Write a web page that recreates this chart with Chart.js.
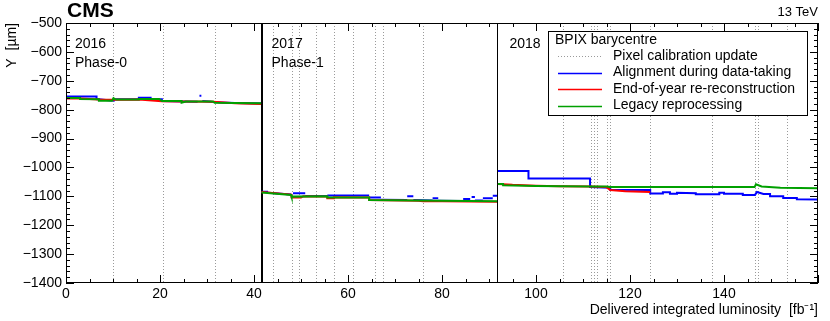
<!DOCTYPE html>
<html><head><meta charset="utf-8">
<script src="https://cdn.jsdelivr.net/npm/chart.js@4.4.1/dist/chart.umd.min.js"></script>
<style>html,body{margin:0;padding:0;background:#fff;}</style>
</head><body>
<canvas id="c" width="830" height="321"></canvas>
<script>
// ---- data (integrated luminosity in fb^-1, Y in micrometres); null = gap
const alignLumi = [0,6.5,6.5,9.5,10.2,10.2,15.5,15.5,18,18,20.4,20.4,25,28,null,28.4,28.8,null,29,31,33,36,41.5,null,
  41.6,43,null,43,47.9,null,48.3,50.9,null,50.9,55.6,null,55.6,64.5,null,64.5,67,null,67,72.6,null,72.6,73.9,null,
  73.9,78,null,78,79.2,null,79.2,84.5,null,84.5,86,null,86.3,87,null,87,88.7,null,88.7,90.8,null,90.8,91.7,null,
  91.9,98.4,98.4,111.5,111.5,115.8,115.8,124.3,124.3,127,127,128.5,128.5,130,130,134,134,139,139,140,140,144,144,146.6,147,148.4,149.8,149.8,152.6,152.6,155.5,155.5,160];
const alignY = [-754,-754,-763,-768,-768,-764,-764,-759,-759,-764,-764,-770,-772,-773,null,-752,-752,null,-770,-773,-775,-777,-779,null,
  -1084,-1084,null,-1088,-1094,null,-1089,-1089,null,-1099,-1099,null,-1097,-1097,null,-1104,-1104,null,-1112,-1113,null,-1100,-1100,null,
  -1113,-1114,null,-1107,-1107,null,-1115,-1116,null,-1109,-1109,null,-1102,-1102,null,-1114,-1114,null,-1107,-1107,null,-1098,-1098,null,
  -1012,-1012,-1038,-1038,-1068,-1070,-1077,-1078,-1090,-1090,-1086,-1086,-1091,-1091,-1088,-1089,-1093,-1093,-1088,-1088,-1091,-1091,-1095,-1095,-1085,-1092,-1092,-1100,-1100,-1106,-1106,-1110,-1111];

const eoyLumi = [0,3,7,10,15.5,20.4,24.6,31.3,36,41.5,null,
  41.6,47.9,48,50,50.5,55.6,55.6,57,57,64.5,64.5,75,76,80,91.7,null,
  91.9,95,100,105,111.5,115,115.8,119,124.3];
const eoyY = [-761,-761,-765,-766,-765,-771,-772,-773,-778,-780,null,
  -1085,-1094,-1104,-1104,-1100,-1101,-1107,-1107,-1103,-1104,-1113,-1115,-1117,-1117,-1119,null,
  -1057,-1060,-1063,-1065,-1066,-1068,-1078,-1082,-1085];

const legacyLumi = [0,3,3,7,7,9.8,10.1,10.6,15.5,15.5,19.8,20.4,24.6,24.6,25.5,31.3,31.6,36,41.5,null,
  41.6,47.9,48,55.6,55.6,64.5,64.5,80,91.7,null,
  91.9,93,93,100,111.5,115,115.8,124,137,146.5,146.8,148,152,160];
const legacyY = [-760,-760,-763,-764,-769,-769,-760,-765,-765,-763,-763,-770,-770,-776,-772,-772,-776,-777,-778,null,
  -1087,-1095,-1101,-1100,-1104,-1104,-1113,-1115,-1117,null,
  -1057,-1057,-1062,-1064,-1066,-1066,-1068,-1068,-1068,-1068,-1058,-1066,-1070,-1072];

const calibLumi = [10.1,20.6,31.6,44.1,48.0,49.6,53.2,57.1,61.1,65.7,67.4,75.9,105.8,111.8,112.4,112.9,115.0,115.8,124.2,137.4,146.6,147.3,153.3];
const yearStart = [0,41.6,91.8];
const yearNames = ['2016','2017','2018'];
const phaseNames = ['Phase-0','Phase-1',''];
const seriesNames = ['Alignment during data-taking','End-of-year re-reconstruction','Legacy reprocessing'];
const xTickStep = 20, yTickStep = 100;

const FONT = '"Liberation Sans", Arial, Helvetica, sans-serif';
const pts = (xs, ys) => xs.map((v,i)=>({x: v, y: ys[i]}));

const decor = {
  id: 'decor',
  beforeDatasetsDraw(chart){
    const {ctx, chartArea:a, scales:{x}} = chart;
    ctx.save();
    ctx.strokeStyle = '#9a9a9a'; ctx.lineWidth = 1; ctx.setLineDash([1,2]);
    calibLumi.forEach(v=>{
      const px = Math.round(x.getPixelForValue(v)) + 0.5;
      ctx.beginPath(); ctx.moveTo(px, a.top); ctx.lineTo(px, a.bottom); ctx.stroke();
    });
    ctx.setLineDash([]);
    ctx.strokeStyle = '#000';
    [[yearStart[1],2],[yearStart[2],1]].forEach(([v,w])=>{
      const px = Math.round(x.getPixelForValue(v)) + (w===1?0.5:0);
      ctx.lineWidth = w;
      ctx.beginPath(); ctx.moveTo(px, a.top); ctx.lineTo(px, a.bottom); ctx.stroke();
    });
    ctx.restore();
  },
  afterDatasetsDraw(chart){
    const {ctx, chartArea:a, scales:{x,y}} = chart;
    ctx.save();
    ctx.strokeStyle = '#000'; ctx.lineWidth = 1;
    ctx.strokeRect(a.left+0.5, a.top+0.5, a.right-a.left-1, a.bottom-a.top-1);
    ctx.beginPath();
    for (let v=0; v<=160; v+=5){
      const px = Math.round(x.getPixelForValue(v))+0.5;
      const L = (v % 20 === 0) ? 8 : 4;
      ctx.moveTo(px, a.bottom); ctx.lineTo(px, a.bottom-L);
      ctx.moveTo(px, a.top); ctx.lineTo(px, a.top+L);
    }
    for (let v=-1400; v<=-500; v+=20){
      const py = Math.round(y.getPixelForValue(v))+0.5;
      const L = (v % 100 === 0) ? 8 : 4;
      ctx.moveTo(a.left, py); ctx.lineTo(a.left+L, py);
      ctx.moveTo(a.right, py); ctx.lineTo(a.right-L, py);
    }
    ctx.stroke();
    ctx.fillStyle = '#000';
    ctx.font = '14px ' + FONT; ctx.textBaseline = 'middle'; ctx.textAlign = 'left';
    yearStart.forEach((v,i)=>{
      const px = x.getPixelForValue(v) + (i===0?9:(i===1?10:12));
      ctx.fillText(yearNames[i], px, 44);
      if (phaseNames[i]) ctx.fillText(phaseNames[i], px, 63);
    });
    ctx.textBaseline = 'alphabetic';
    ctx.font = 'bold 21px ' + FONT;
    ctx.fillText('CMS', a.left+1, 17);
    ctx.font = '13px ' + FONT; ctx.textAlign = 'right';
    ctx.fillText('13 TeV', a.right, 16);
    const lx = 548, ly = 31, lw = 259, lh = 84;
    ctx.fillStyle = '#fff'; ctx.fillRect(lx, ly, lw, lh);
    ctx.strokeStyle = '#000'; ctx.lineWidth = 1; ctx.strokeRect(lx+0.5, ly+0.5, lw, lh);
    ctx.fillStyle = '#000'; ctx.textAlign = 'left'; ctx.textBaseline = 'middle';
    ctx.font = '14px ' + FONT;
    ctx.fillText('BPIX barycentre', 555, 40);
    const rows = [56, 72.5, 89, 105.5];
    const labels = ['Pixel calibration update'].concat(seriesNames);
    const cols = ['#9a9a9a','#0000ff','#ff0000','#00a000'];
    rows.forEach((ry,i)=>{
      ctx.strokeStyle = cols[i]; ctx.lineWidth = i===0?1:1.5;
      ctx.setLineDash(i===0?[1,2]:[]);
      ctx.beginPath(); ctx.moveTo(558, Math.round(ry)+0.5); ctx.lineTo(602, Math.round(ry)+0.5); ctx.stroke();
      ctx.fillText(labels[i], 613, ry);
    });
    ctx.restore();
  }
};

new Chart(document.getElementById('c'), {
  type: 'line',
  data: { datasets: [
    { label: seriesNames[2], data: pts(legacyLumi, legacyY), borderColor: '#00a000', borderWidth: 2, pointRadius: 0, spanGaps: false, tension: 0 },
    { label: seriesNames[1], data: pts(eoyLumi, eoyY), borderColor: '#ff0000', borderWidth: 2, pointRadius: 0, spanGaps: false, tension: 0 },
    { label: seriesNames[0], data: pts(alignLumi, alignY), borderColor: '#0000ff', borderWidth: 2, pointRadius: 0, spanGaps: false, tension: 0 }
  ]},
  options: {
    responsive: false, animation: false, devicePixelRatio: 1,
    layout: { padding: { top: 23, right: 12, left: 0, bottom: 0 } },
    plugins: { legend: { display: false }, tooltip: { enabled: false } },
    scales: {
      x: {
        type: 'linear', min: 0, max: 160,
        grid: { display: false, drawTicks: false }, border: { display: false },
        ticks: { stepSize: xTickStep, autoSkip: false, maxRotation: 0, padding: 3, color: '#000',
          font: { family: FONT, size: 14 }, callback: v => v >= 160 ? '' : String(v) },
        title: { display: true, text: 'Delivered integrated luminosity  [fb\u207B\u00B9]', align: 'end', color: '#000',
          font: { family: FONT, size: 14 }, padding: { top: 0, bottom: 2 } },
        afterFit: s => { s.height = 38; }
      },
      y: {
        type: 'linear', min: -1400, max: -500,
        grid: { display: false, drawTicks: false }, border: { display: false },
        ticks: { stepSize: yTickStep, padding: 4, color: '#000', font: { family: FONT, size: 14 },
          callback: v => (v < 0 ? '\u2212' : '') + Math.abs(v) },
        title: { display: true, text: 'Y  [\u00B5m]', align: 'end', color: '#000',
          font: { family: FONT, size: 14 }, padding: { top: 4, bottom: 0 } },
        afterFit: s => { s.width = 66; }
      }
    }
  },
  plugins: [decor]
});
</script>
</body></html>
